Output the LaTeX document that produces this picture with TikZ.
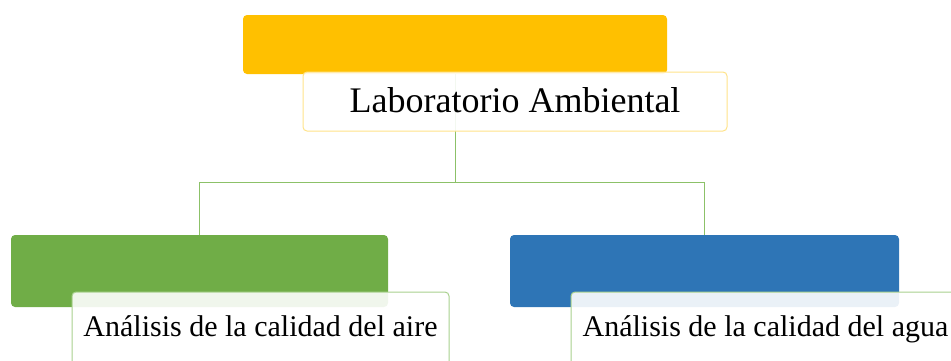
\documentclass[tikz,border=0pt]{standalone}
\usepackage{fontspec}
\setmainfont{Liberation Serif}
\usetikzlibrary{backgrounds}
\definecolor{cyellow}{HTML}{FFC000}
\definecolor{cgreen}{HTML}{70AD47}
\definecolor{cblue}{HTML}{2E75B6}
\definecolor{lyellow}{HTML}{FFE38A}
\definecolor{lgreen}{HTML}{A9D18E}
\definecolor{conncol}{HTML}{8CC168}
\begin{document}
\begin{tikzpicture}[x=1pt,y=-1pt,
  colbox/.style={draw=none, rounded corners=4pt, inner sep=0pt, outer sep=0pt},
  txtbox/.style={fill=white, fill opacity=0.9, text opacity=1, rounded corners=4pt, inner sep=0pt, outer sep=0pt, line width=1pt},
  conn/.style={draw=conncol, line width=0.9pt}]
\useasboundingbox (0,0) rectangle (951,360);
\clip (0,0) rectangle (951,360);
\coordinate (hub) at (455,182);
% colored boxes
\node[colbox, fill=cyellow, minimum width=424pt, minimum height=59pt] (top) at (455,44.5) {};
\node[colbox, fill=cgreen, minimum width=377pt, minimum height=72pt] (air) at (199.5,271) {};
\node[colbox, fill=cblue, minimum width=389pt, minimum height=72pt] (water) at (704.5,271) {};
% connectors (behind the boxes)
\begin{scope}[on background layer]
\draw[conn] (top.center) -- (hub);
\draw[conn] (hub) -| (air.center);
\draw[conn] (hub) -| (water.center);
\end{scope}
% text boxes
\node[txtbox, draw=lyellow, minimum width=424pt, minimum height=59pt,
  font=\fontsize{36}{40}\selectfont, text height=25pt, text depth=4pt] (toptext) at (515,101.5) {Laboratorio Ambiental};
\node[txtbox, draw=lgreen, minimum width=377pt, minimum height=74pt,
  font=\fontsize{30}{34}\selectfont, text height=21pt, text depth=7pt] (airtext) at (260.5,329) {Análisis de la calidad del aire};
\node[txtbox, draw=lgreen, minimum width=389pt, minimum height=74pt,
  font=\fontsize{30}{34}\selectfont, text height=21pt, text depth=7pt] (watertext) at (765.5,329) {Análisis de la calidad del agua};
\end{tikzpicture}
\end{document}
